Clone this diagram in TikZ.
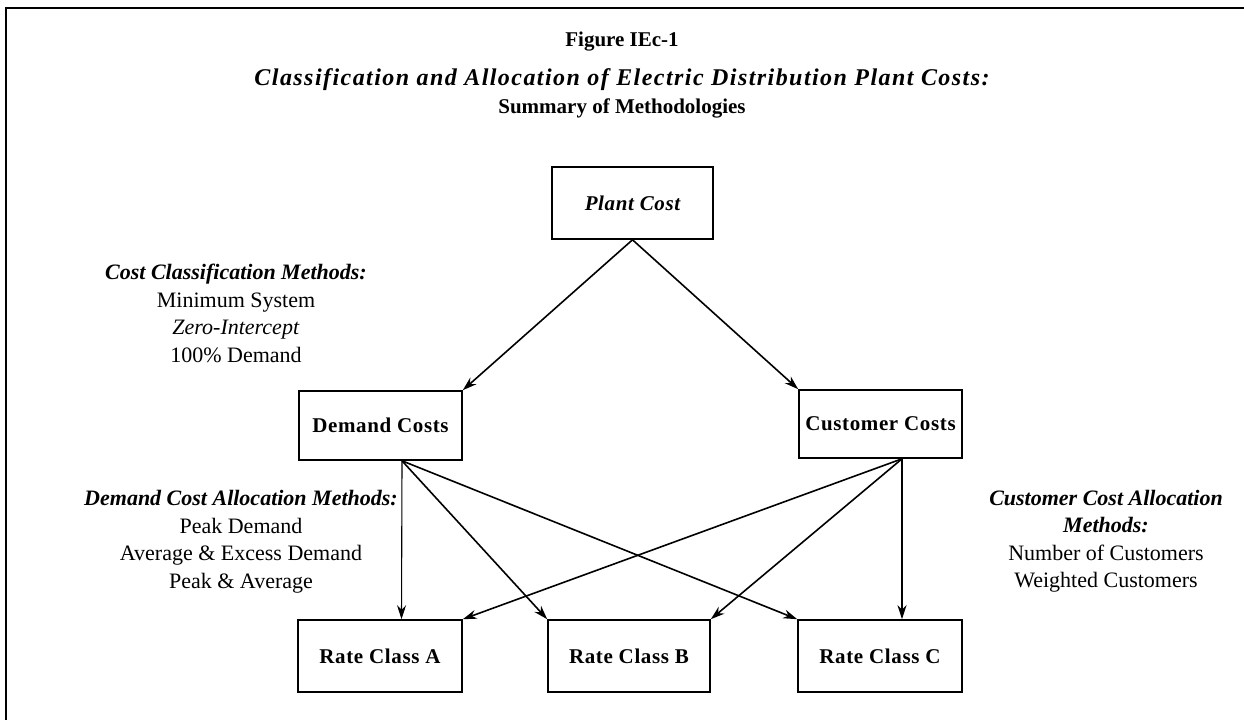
\documentclass[tikz,border=0pt]{standalone}
\usepackage{fontspec}
\setmainfont{Liberation Serif}
\usetikzlibrary{arrows.meta,calc}
\begin{document}
\begin{tikzpicture}[x=1pt,y=-1pt,
  box/.style={draw,line width=1.6pt,minimum width=162pt,minimum height=70pt,inner sep=0pt,
    font=\fontsize{21}{25}\selectfont\bfseries\addfontfeature{LetterSpace=3}},
  arr/.style={line width=1.6pt,-{Stealth[length=14pt,width=9pt]}},
  thinarr/.style={line width=1.1pt,-{Stealth[length=14pt,width=9pt]}},
  lbl/.style={align=center,font=\fontsize{22}{27.5}\selectfont,inner sep=0pt},
  ttl/.style={inner sep=0pt},
  frame/.style={line width=1.8pt}]
\useasboundingbox (0,0) rectangle (1244,720);
% frame
\draw[frame] (1244,8) -- (6,8) -- (6,720);
% titles
\node[ttl,font=\fontsize{21}{25}\selectfont\bfseries] (t1) at (622,42) {Figure IEc-1};
\node[ttl,font=\fontsize{24}{28}\selectfont\bfseries\itshape\addfontfeature{LetterSpace=6}] (t2) at (622,80) {Classification and Allocation of Electric Distribution Plant Costs:};
\node[ttl,font=\fontsize{21}{25}\selectfont\bfseries] (t3) at (622,108) {Summary of Methodologies};
% boxes
\node[box,minimum width=161pt,minimum height=72pt] (plant) at (632.5,203) {\itshape Plant Cost};
\node[box,minimum width=163pt,minimum height=69pt] (dem) at (380.5,425.5) {Demand Costs};
\node[box,minimum width=163pt,minimum height=68pt] (cus) at (880.5,424) {Customer Costs};
\node[box,minimum width=164pt,minimum height=72pt] (ra) at (380,656) {Rate Class A};
\node[box,minimum width=162pt,minimum height=72pt] (rb) at (629,656) {Rate Class B};
\node[box,minimum width=164pt,minimum height=72pt] (rc) at (880,656) {Rate Class C};
% connector anchor points
\coordinate (demout) at ($(dem.south)+(21.5,0)$);
\coordinate (cusout) at ($(cus.south)+(21.5,0)$);
\coordinate (rain) at ($(ra.north)+(21.5,0)$);
\coordinate (rcin) at ($(rc.north)+(22,0)$);
% connectors
\draw[arr] (plant.south) -- (dem.north east);
\draw[arr] (plant.south) -- (cus.north west);
\draw[thinarr] (demout) -- (rain);
\draw[arr] (demout) -- (rb.north west);
\draw[arr] (demout) -- (rc.north west);
\draw[arr] (cusout) -- (ra.north east);
\draw[arr] (cusout) -- (rb.north east);
\draw[thinarr] (cusout) -- (rcin);
% side labels
\node[lbl] (clm) at (236,313.5) {\textbf{\textit{Cost Classification Methods:}}\\Minimum System\\\textit{Zero-Intercept}\\100\% Demand};
\node[lbl] (dcm) at (241,541.5) {\textbf{\textit{Demand Cost Allocation Methods:}}\\Peak Demand\\Average \& Excess Demand\\Peak \& Average};
\node[lbl] (ccm) at (1106,541) {\textbf{\textit{Customer Cost Allocation}}\\\textbf{\textit{Methods:}}\\Number of Customers\\Weighted Customers};
\end{tikzpicture}
\end{document}
